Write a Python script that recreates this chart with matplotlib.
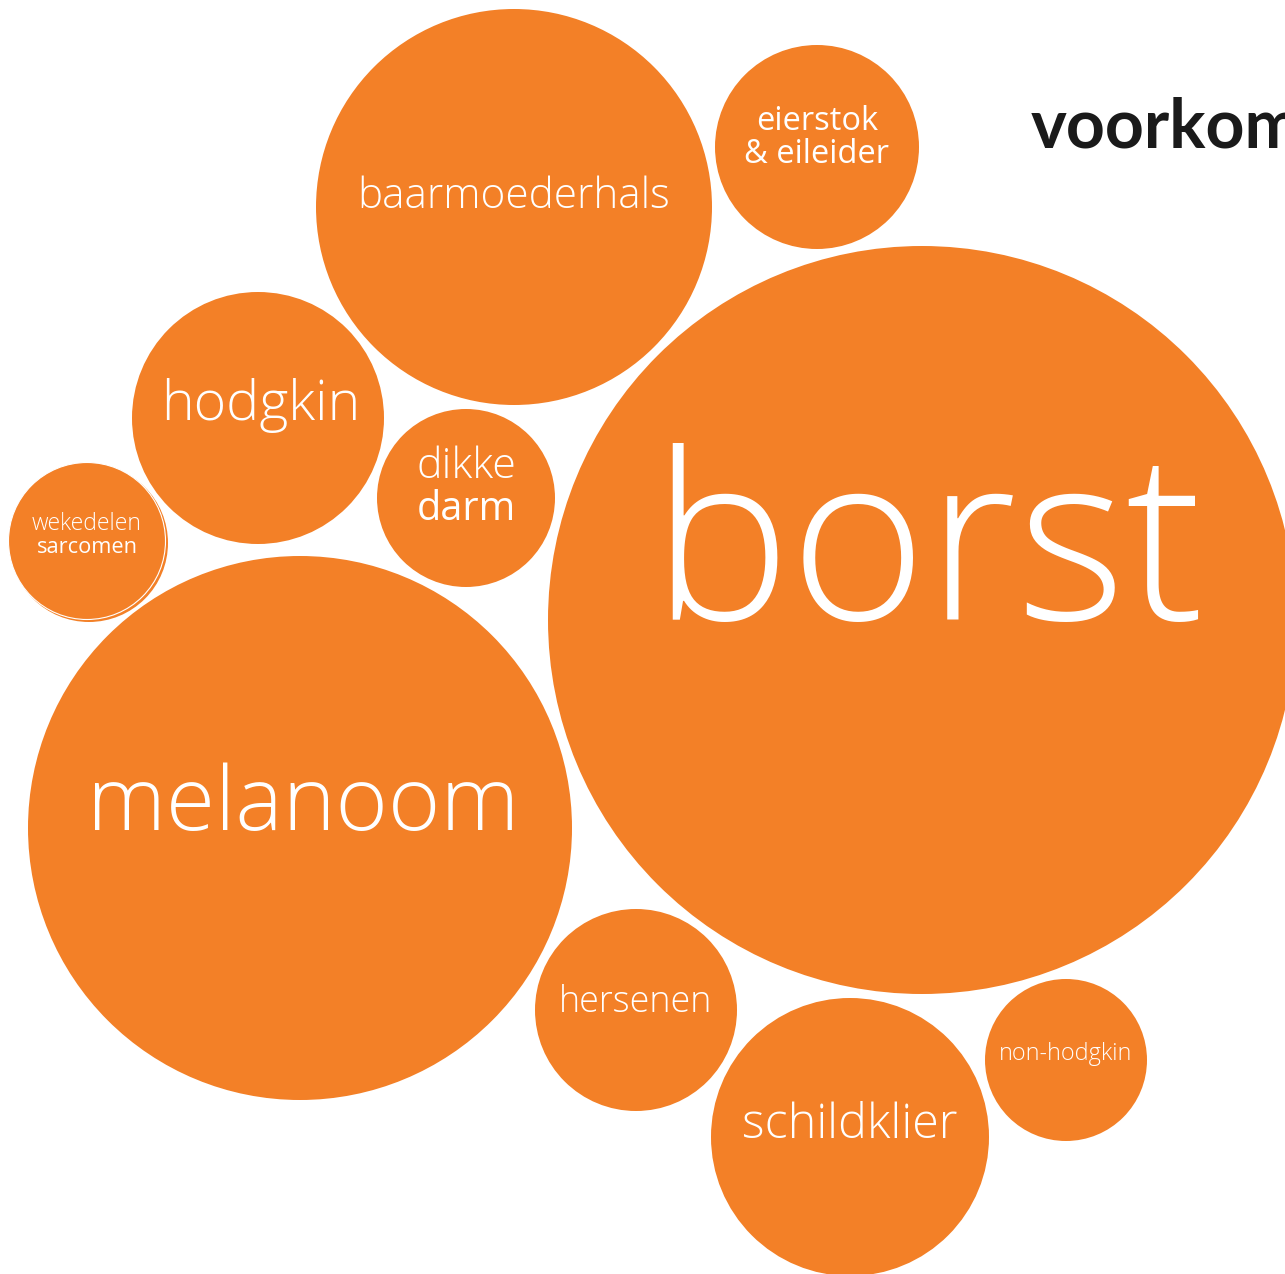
import matplotlib
matplotlib.use("Agg")
import matplotlib.pyplot as plt
from matplotlib.patches import Circle

# data
labels = ["borst", "melanoom", "baarmoederhals", "hodgkin", "eierstok\n& eileider",
          "hersenen", "schildklier", "dikke\ndarm", "wekedelen\nsarcomen", "non-hodgkin"]
radius = [374, 272, 198, 126, 102, 101, 139, 89, 79, 81]

# layout (pixel coordinates, y downward)
cx = [922, 300, 514, 258, 817, 636, 850, 466, 87, 1066]
cy = [620, 828, 207, 418, 147, 1010, 1137, 498, 541, 1060]
fsize = [168, 64.4, 30.4, 40, 23.5, 25.8, 34.9, 31, 16.5, 16.8]
ty = [620, 830, 208, 420, 130, 1012, 1138, 478, 530, 1060]
tx_off = [6, 3, 0, 3, 0, 0, 0, 0, 0, 0]
line_gap = [0, 0, 0, 0, 33, 0, 0, 42, 23, 0]
weights = [["light"], ["light"], ["light"], ["light"], ["normal", "normal"],
           ["light"], ["light"], ["light", "normal"], ["light", "normal"], ["light"]]
line_scale = [[1], [1], [1], [1], [1, 1], [1], [1], [1, 0.92], [1, 0.95], [1]]

ORANGE = "#F38027"
W, H = 1285, 1274
fig = plt.figure(figsize=(W / 100, H / 100), dpi=100)
ax = fig.add_axes([0, 0, 1, 1])
ax.set_xlim(0, W)
ax.set_ylim(H, 0)
ax.set_aspect("equal")
ax.axis("off")

FONT = "Open Sans"
for lab, r, x, y, fs, t, dx, g, wts, scl in zip(labels, radius, cx, cy, fsize, ty,
                                                 tx_off, line_gap, weights, line_scale):
    if lab.startswith("wekedelen"):
        # slightly offset duplicate circle gives the thin double edge
        ax.add_patch(Circle((x + 2, y + 2), r, facecolor=ORANGE, edgecolor="none"))
        ax.add_patch(Circle((x, y), r - 0.5, facecolor=ORANGE, edgecolor="white",
                            linewidth=0.8))
    else:
        ax.add_patch(Circle((x, y), r, facecolor=ORANGE, edgecolor="none"))
    lines = lab.split("\n")
    for i, ln in enumerate(lines):
        ax.text(x + dx, t + i * g, ln, ha="center", va="baseline", color="white",
                fontsize=fs * scl[i], family=FONT, fontweight=wts[i])

ax.text(1031, 147, "voorkomen", ha="left", va="baseline", color="#1a1a1a",
        fontsize=49, family="Lato", fontweight="bold")

fig.savefig("out.png", dpi=100)
